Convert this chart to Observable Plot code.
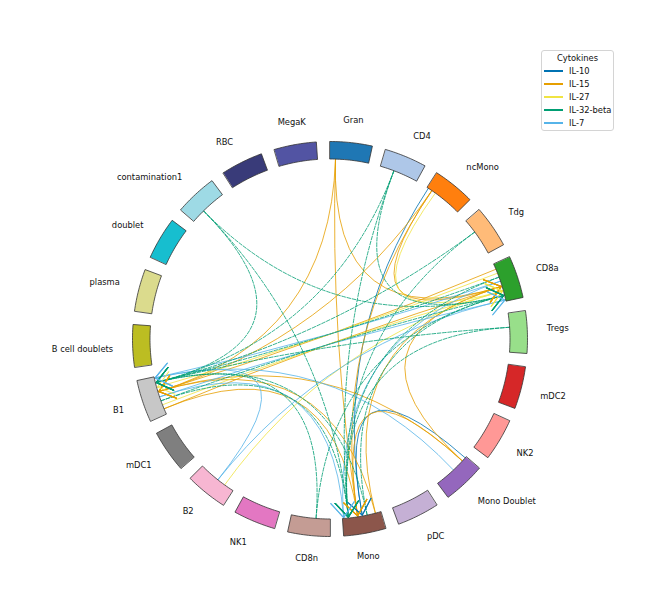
<!DOCTYPE html>
<html>
<head>
<meta charset="utf-8">
<script src="https://cdn.jsdelivr.net/npm/d3@7"></script>
<script src="https://cdn.jsdelivr.net/npm/@observablehq/plot@0.6"></script>
<style>
  body { margin: 0; background: #fff; font-family: "DejaVu Sans", sans-serif; }
  #wrap { position: relative; width: 663px; height: 613px; }
  #wrap svg { position: absolute; left: 0; top: 0; }
  .legend { position: absolute; left: 541px; top: 50px; width: 71px; height: 79px;
            border: 1px solid #d4d4d4; border-radius: 3px; background: #fff;
            font-size: 8.33px; color: #111; }
  .legend .ttl { position: absolute; left: 0; width: 100%; top: 2px; text-align: center; }
  .legend .row { position: absolute; left: 27px; white-space: nowrap; line-height: 10px; }
  .legend .sw { position: absolute; left: 2px; width: 19px; height: 2px; }
</style>
</head>
<body>
<div id="wrap"></div>
<script>
// Cell groups, in clockwise order starting at 12 o'clock
const cellTypes = ["Gran", "CD4", "ncMono", "Tdg", "CD8a", "Tregs", "mDC2", "NK2",
  "Mono Doublet", "pDC", "Mono", "CD8n", "NK1", "B2", "mDC1", "B1",
  "B cell doublets", "plasma", "doublet", "contamination1", "RBC", "MegaK"];
const cellColors = ["#1f77b4", "#aec7e8", "#ff7f0e", "#ffbb78", "#2ca02c", "#98df8a",
  "#d62728", "#ff9896", "#9467bd", "#c5b0d5", "#8c564b", "#c49c94", "#e377c2",
  "#f7b6d2", "#7f7f7f", "#c7c7c7", "#bcbd22", "#dbdb8d", "#17becf", "#9edae5",
  "#393b79", "#5254a3"];

// Cytokine signalling channels
const cytokines = ["IL-10", "IL-15", "IL-27", "IL-32-beta", "IL-7"];
const cytokineColors = ["#0072B2", "#E69F00", "#F0E442", "#009E73", "#56B4E9"];

// Sender -> receiver interactions
const edgeSource = [
  "ncMono", "Mono Doublet",
  "Gran", "Gran", "Gran", "ncMono", "ncMono", "ncMono", "Mono Doublet", "Mono Doublet",
  "Mono Doublet", "Mono", "B1", "B1", "CD8a", "Mono",
  "ncMono", "B2", "B1", "CD8a",
  "CD4", "CD4", "CD4", "Tdg", "Tdg", "contamination1", "contamination1", "contamination1",
  "Tregs", "Tregs", "CD8n", "CD8n", "CD8a", "CD8a", "B1", "B1", "Mono", "Mono",
  "B2", "B2", "B1", "B1", "CD8a", "CD8a", "Mono Doublet"];
const edgeTarget = [
  "Mono", "Mono",
  "CD8a", "B1", "Mono", "CD8a", "B1", "Mono", "CD8a", "B1",
  "Mono", "CD8a", "CD8a", "Mono", "B1", "B1",
  "CD8a", "CD8a", "CD8a", "B1",
  "CD8a", "B1", "Mono", "B1", "Mono", "CD8a", "B1", "Mono",
  "B1", "Mono", "CD8a", "B1", "B1", "Mono", "CD8a", "Mono", "CD8a", "B1",
  "CD8a", "B1", "CD8a", "Mono", "B1", "Mono", "B1"];
const edgeCytokine = [
  "IL-10", "IL-10",
  "IL-15", "IL-15", "IL-15", "IL-15", "IL-15", "IL-15", "IL-15", "IL-15",
  "IL-15", "IL-15", "IL-15", "IL-15", "IL-15", "IL-15",
  "IL-27", "IL-27", "IL-27", "IL-27",
  "IL-32-beta", "IL-32-beta", "IL-32-beta", "IL-32-beta", "IL-32-beta", "IL-32-beta",
  "IL-32-beta", "IL-32-beta", "IL-32-beta", "IL-32-beta", "IL-32-beta", "IL-32-beta",
  "IL-32-beta", "IL-32-beta", "IL-32-beta", "IL-32-beta", "IL-32-beta", "IL-32-beta",
  "IL-7", "IL-7", "IL-7", "IL-7", "IL-7", "IL-7", "IL-7"];

// ---- ring geometry (unit = inner radius of the ring) ----
const W = 663, H = 613, PX = 180;          // pixels per unit radius
const CX = 329.5, CY = 338.5;              // ring centre in the frame
const R_IN = 1, R_OUT = 197.5 / PX, R_LABEL = 217 / PX, R_TIP = 0.995;
const SLOT = 360 / cellTypes.length, ARC = 12.4;
const rad = a => a * Math.PI / 180;
const polar = (r, a) => [r * Math.sin(rad(a)), -r * Math.cos(rad(a))];

// annular sector outlines for every cell group
const sectors = [];
cellTypes.forEach((name, i) => {
  const a0 = i * SLOT, a1 = a0 + ARC, n = 16;
  for (let k = 0; k <= n; k++) { const [x, y] = polar(R_OUT, a0 + (a1 - a0) * k / n); sectors.push({name, x, y, color: cellColors[i]}); }
  for (let k = n; k >= 0; k--) { const [x, y] = polar(R_IN, a0 + (a1 - a0) * k / n); sectors.push({name, x, y, color: cellColors[i]}); }
});

// labels around the ring: pushed away from the ring horizontally and vertically
const labels = cellTypes.map((name, i) => {
  const a = i * SLOT + ARC / 2, [x, y] = polar(R_LABEL, a), s = Math.sin(rad(a));
  return {name, x, y,
    anchor: s > 0.3 ? "start" : s < -0.3 ? "end" : "middle",
    line: Math.cos(rad(a)) > 0 ? "bottom" : "top"};
});

// edges: quadratic curves pulled through the ring centre, open arrowheads at the receiver;
// each cytokine leaves and enters a group at its own slot along the arc
const edgeRows = [], headRows = [];
const HEAD_LEN = 19 / PX, HEAD_ANG = rad(38);
edgeSource.forEach((src, e) => {
  const k = cytokines.indexOf(edgeCytokine[e]);
  const color = cytokineColors[k], dashed = edgeCytokine[e] === "IL-32-beta";
  const aS = cellTypes.indexOf(src) * SLOT + 0.4 + 1.35 * k;
  const aT = cellTypes.indexOf(edgeTarget[e]) * SLOT + 6.0 + 1.5 * k;
  const p0 = polar(R_IN, aS), p2 = polar(R_TIP, aT);
  for (const [x, y] of [p0, [0, 0], p2]) edgeRows.push({id: e, x, y, color, dashed});
  // travel direction at the tip (tangent of the curve = tip minus control point)
  const len = Math.hypot(p2[0], p2[1]), dx = p2[0] / len, dy = p2[1] / len;
  const wing = s => {
    const c = Math.cos(s * HEAD_ANG), sn = Math.sin(s * HEAD_ANG);
    return [p2[0] - HEAD_LEN * (dx * c - dy * sn), p2[1] - HEAD_LEN * (dx * sn + dy * c)];
  };
  for (const [x, y] of [wing(1), p2, wing(-1)]) headRows.push({id: e, x, y, color});
});

function quadBezier(context) {
  let pts;
  return {
    areaStart() {}, areaEnd() {},
    lineStart() { pts = []; },
    point(x, y) { pts.push([+x, +y]); },
    lineEnd() {
      if (pts.length < 2) return;
      context.moveTo(pts[0][0], pts[0][1]);
      if (pts.length === 3) context.quadraticCurveTo(pts[1][0], pts[1][1], pts[2][0], pts[2][1]);
      else pts.slice(1).forEach(p => context.lineTo(p[0], p[1]));
    }
  };
}

const labelMarks = [];
for (const anchor of ["start", "middle", "end"]) for (const line of ["top", "bottom"]) {
  const rows = labels.filter(d => d.anchor === anchor && d.line === line);
  if (rows.length) labelMarks.push(Plot.text(rows, {x: "x", y: "y", text: "name",
    textAnchor: anchor, lineAnchor: line, fontSize: 8.33, fill: "#111", fontFamily: "DejaVu Sans"}));
}

const chart = Plot.plot({
  width: W, height: H, margin: 0,
  x: {domain: [-CX / PX, (W - CX) / PX], range: [0, W], axis: null},
  y: {domain: [-CY / PX, (H - CY) / PX], range: [0, H], axis: null},
  color: {type: "identity"},
  style: {background: "transparent", overflow: "visible"},
  marks: [
    Plot.line(edgeRows.filter(d => !d.dashed), {x: "x", y: "y", z: "id", stroke: "color",
      strokeWidth: 1, strokeOpacity: 0.8, curve: quadBezier}),
    Plot.line(edgeRows.filter(d => d.dashed), {x: "x", y: "y", z: "id", stroke: "color",
      strokeWidth: 1, strokeOpacity: 0.8, strokeDasharray: "3.7,1.6", curve: quadBezier}),
    Plot.line(headRows, {x: "x", y: "y", z: "id", stroke: "color", strokeWidth: 1.1,
      strokeOpacity: 0.85, strokeLinejoin: "miter"}),
    Plot.line(sectors, {x: "x", y: "y", z: "name", fill: "color", stroke: "#333",
      strokeWidth: 0.8, curve: "linear-closed"}),
    ...labelMarks
  ]
});

const wrap = document.getElementById("wrap");
wrap.appendChild(chart);

// legend box for the cytokine colours
const legend = document.createElement("div");
legend.className = "legend";
legend.innerHTML = `<div class="ttl">Cytokines</div>` + cytokines.map((c, i) =>
  `<div class="row" style="top:${15 + i * 13}px"><span class="sw" style="left:-25px;top:4px;background:${cytokineColors[i]}"></span>${c}</div>`
).join("");
wrap.appendChild(legend);
</script>
</body>
</html>
